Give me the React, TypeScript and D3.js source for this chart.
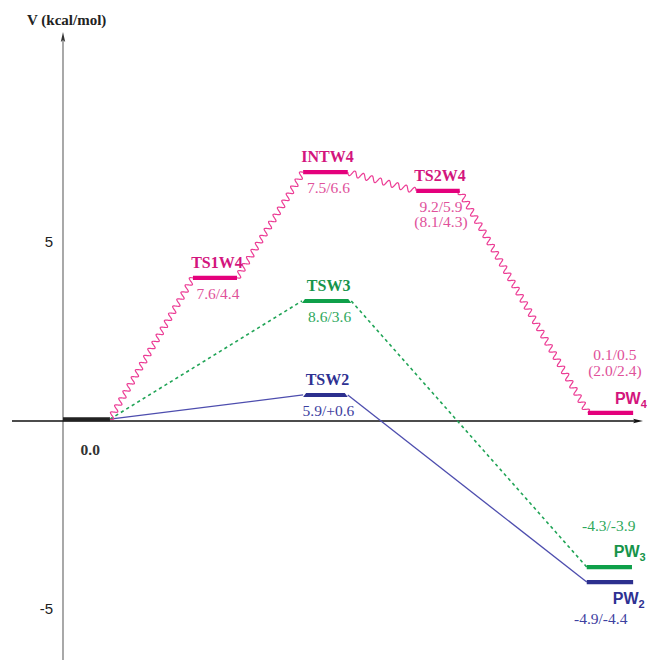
import React from "react";
import * as d3 from "d3";

// ---- data ----
const yTickValues = [5, -5];
const yTickLabels = ["5", "-5"];
const axisTitle = "V (kcal/mol)";

const reactantLevel = 0.05;
const reactantSpan = [0, 0.81];
const reactantLabel = "0.0";

// W4 pathway (wavy, magenta)
const w4Names = ["TS1W4", "INTW4", "TS2W4", "PW"];
const w4Sub = ["", "", "", "4"];
const w4Levels = [3.9, 6.78, 6.27, 0.22];
const w4Start = [2.24, 4.14, 6.09, 9.05];
const w4End = [3.0, 4.91, 6.84, 9.83];
const w4Values = [["7.6/4.4"], ["7.5/6.6"], ["9.2/5.9", "(8.1/4.3)"], ["0.1/0.5", "(2.0/2.4)"]];

// W3 pathway (dashed, green)
const w3Names = ["TSW3", "PW"];
const w3Sub = ["", "3"];
const w3Levels = [3.27, -3.98];
const w3Start = [4.12, 9.03];
const w3End = [4.97, 9.81];
const w3Values = [["8.6/3.6"], ["-4.3/-3.9"]];

// W2 pathway (solid, blue)
const w2Names = ["TSW2", "PW"];
const w2Sub = ["", "2"];
const w2Levels = [0.71, -4.39];
const w2Start = [4.14, 9.03];
const w2End = [4.91, 9.83];
const w2Values = [["5.9/+0.6"], ["-4.9/-4.4"]];

// ---- layout ----
const W = 647;
const H = 660;
const x = d3.scaleLinear().domain([0, 10]).range([63, 643]);
const y = d3.scaleLinear().domain([0, 5]).range([421, 237.5]);

const SERIF = "'Liberation Serif', 'Times New Roman', serif";
const SANS = "'Liberation Sans', Arial, sans-serif";

type Style = {
  bar: string;
  label: string;
  value: string;
  line: string;
};
const magenta: Style = { bar: "#e4007c", label: "#d3157d", value: "#e0509a", line: "#ec3d95" };
const green: Style = { bar: "#0fa04a", label: "#16944a", value: "#2ea85c", line: "#20a456" };
const blue: Style = { bar: "#2c2f8e", label: "#2e3192", value: "#3d40a0", line: "#4d4dae" };

// placement of PW labels (dx from bar start in px, dy from bar in px)
const pwLayout: Record<string, { lx: number; ly: number; vx: number; vy: number[] }> = {
  "4": { lx: 27, ly: -9, vx: 27, vy: [-53, -37] },
  "3": { lx: 27, ly: -10, vx: 22, vy: [-36.5] },
  "2": { lx: 26, ly: 22, vx: 14, vy: [42] },
};

function wavyPath(x0: number, y0: number, x1: number, y1: number) {
  const dx = x1 - x0;
  const dy = y1 - y0;
  const len = Math.hypot(dx, dy);
  const periods = Math.max(1, Math.round(len / 8.4));
  const amp = 3;
  const nx = -dy / len;
  const ny = dx / len;
  const n = periods * 20;
  const pts: [number, number][] = [];
  for (let i = 0; i <= n; i++) {
    const t = i / n;
    const s = Math.sin(t * periods * 2 * Math.PI) * amp;
    pts.push([x0 + dx * t + nx * s, y0 + dy * t + ny * s]);
  }
  return d3.line().curve(d3.curveCatmullRom)(pts) as string;
}

function Bar({ x0, x1, yy, color, taper }: { x0: number; x1: number; yy: number; color: string; taper?: boolean }) {
  if (taper) {
    const pts = [
      [x0, yy + 2],
      [x0 + 3, yy - 2],
      [x1 - 3, yy - 2],
      [x1, yy + 2],
    ];
    return <polygon points={pts.map((p) => p.join(",")).join(" ")} fill={color} />;
  }
  return <line x1={x0} x2={x1} y1={yy} y2={yy} stroke={color} strokeWidth={4.2} />;
}

function Pathway({
  names,
  subs,
  levels,
  starts,
  ends,
  values,
  style,
  kind,
}: {
  names: string[];
  subs: string[];
  levels: number[];
  starts: number[];
  ends: number[];
  values: string[][];
  style: Style;
  kind: "wavy" | "dashed" | "solid";
}) {
  const segs: React.ReactNode[] = [];
  let px = x(reactantSpan[1]);
  let py = y(reactantLevel);
  levels.forEach((lv, i) => {
    const sx = x(starts[i]);
    const sy = y(lv);
    if (kind === "wavy") {
      segs.push(<path key={"s" + i} d={wavyPath(px, py, sx, sy)} fill="none" stroke={style.line} strokeWidth={1.2} />);
    } else {
      segs.push(
        <line
          key={"s" + i}
          x1={px}
          y1={py}
          x2={sx}
          y2={sy}
          stroke={style.line}
          strokeWidth={kind === "dashed" ? 1.6 : 1.3}
          strokeDasharray={kind === "dashed" ? "3.2,3.2" : undefined}
        />
      );
    }
    px = x(ends[i]);
    py = sy;
  });

  return (
    <g>
      {segs}
      {levels.map((lv, i) => {
        const x0 = x(starts[i]);
        const x1 = x(ends[i]);
        const yy = y(lv);
        const cx = (x0 + x1) / 2;
        const sub = subs[i];
        if (sub) {
          const lay = pwLayout[sub];
          return (
            <g key={"b" + i}>
              <Bar x0={x0} x1={x1} yy={yy} color={style.bar} />
              <text x={x0 + lay.lx} y={yy + lay.ly} fontFamily={SANS} fontWeight="bold" fontSize={16} fill={style.label}>
                {names[i]}
                <tspan fontSize={11} dy={4}>
                  {sub}
                </tspan>
              </text>
              {values[i].map((v, j) => (
                <text key={j} x={x0 + lay.vx} y={yy + lay.vy[j]} textAnchor="middle" fontFamily={SERIF} fontSize={15.5} fill={style.value}>
                  {v}
                </text>
              ))}
            </g>
          );
        }
        return (
          <g key={"b" + i}>
            <Bar x0={x0} x1={x1} yy={yy} color={style.bar} taper={kind !== "wavy"} />
            <text x={cx + 2} y={yy - 10} textAnchor="middle" fontFamily={SERIF} fontWeight="bold" fontSize={16} fill={style.label}>
              {names[i]}
            </text>
            {values[i].map((v, j) => (
              <text key={j} x={cx + 3} y={yy + 21 + j * 15.5} textAnchor="middle" fontFamily={SERIF} fontSize={15.5} fill={style.value}>
                {v}
              </text>
            ))}
          </g>
        );
      })}
    </g>
  );
}

export default function App() {
  const x0 = x(0);
  const y0 = y(0);
  return (
    <svg width={W} height={H} style={{ position: "absolute", left: 0, top: 0, background: "#fff" }}>
      <rect x={0} y={0} width={W} height={H} fill="#fff" />
      {/* y axis */}
      <line x1={x0} x2={x0} y1={H} y2={38} stroke="#7a7a7a" strokeWidth={1.3} />
      <path d={`M${x0},32 L${x0 - 2.2},42 L${x0},40 L${x0 + 2.2},42 Z`} fill="#333" />
      <text x={27} y={25} fontFamily={SERIF} fontWeight="bold" fontSize={15} fill="#222">
        {axisTitle}
      </text>
      {yTickValues.map((t, i) => (
        <text key={t} x={53} y={y(t) + 4} textAnchor="end" dominantBaseline="central" fontFamily={SANS} fontSize={15} fill="#222">
          {yTickLabels[i]}
        </text>
      ))}
      {/* x axis */}
      <line x1={12} x2={638} y1={y0} y2={y0} stroke="#111" strokeWidth={1.3} />
      <path d={`M643,${y0} L633,${y0 - 2.2} L635,${y0} L633,${y0 + 2.2} Z`} fill="#111" />

      {/* reactant */}
      <line x1={x(reactantSpan[0])} x2={x(reactantSpan[1])} y1={y(reactantLevel)} y2={y(reactantLevel)} stroke="#222" strokeWidth={4} />
      <text x={x(0.47)} y={455} textAnchor="middle" fontFamily={SERIF} fontWeight="bold" fontSize={15.5} fill="#333">
        {reactantLabel}
      </text>

      <Pathway names={w2Names} subs={w2Sub} levels={w2Levels} starts={w2Start} ends={w2End} values={w2Values} style={blue} kind="solid" />
      <Pathway names={w3Names} subs={w3Sub} levels={w3Levels} starts={w3Start} ends={w3End} values={w3Values} style={green} kind="dashed" />
      <Pathway names={w4Names} subs={w4Sub} levels={w4Levels} starts={w4Start} ends={w4End} values={w4Values} style={magenta} kind="wavy" />
    </svg>
  );
}
